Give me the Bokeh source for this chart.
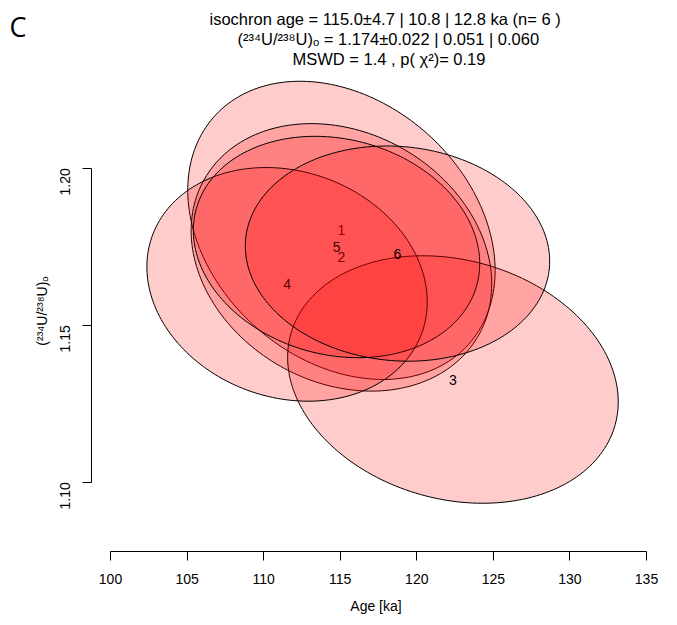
import math
import numpy as np
from bokeh.plotting import figure
from bokeh.models import ColumnDataSource, Title, FixedTicker, PrintfTickFormatter, Range1d
from bokeh.core.properties import value
from bokeh.embed import file_html
from bokeh.resources import INLINE

# ---- data ----
sample_ids = ["1", "2", "3", "4", "5", "6"]
age_ka = [115.08, 115.08, 122.36, 111.53, 114.76, 118.74]
u234_u238_0 = [1.1802, 1.1716, 1.1327, 1.1630, 1.1749, 1.1728]
s_age = [4.10, 4.01, 4.41, 3.74, 3.82, 4.06]
s_ratio = [0.0194, 0.0174, 0.0161, 0.0152, 0.0144, 0.0140]
rho = [-0.27, -0.20, -0.18, -0.15, -0.15, -0.07]
conf_level = 0.95
x_ticks = [100, 105, 110, 115, 120, 125, 130, 135]
y_ticks = [1.10, 1.15, 1.20]

title_lines = [
    "isochron age =  115.0\u00b14.7 | 10.8 | 12.8 ka (n= 6 )",
    "(\u00b2\u00b3\u2074U/\u00b2\u00b3\u2078U)\u2092 =  1.174\u00b10.022 | 0.051 | 0.060",
    "MSWD = 1.4 , p( \u03c7\u00b2)= 0.19",
]
panel_tag = "C"

FONT = "Liberation Sans"

p = figure(width=661, height=617,
           x_range=Range1d(98.759, 135.914), y_range=Range1d(1.07793, 1.23111),
           output_backend="svg", toolbar_location=None,
           min_border_left=91, min_border_right=1, min_border_top=70, min_border_bottom=66)
p.outline_line_color = None
p.xgrid.visible = False
p.ygrid.visible = False
p.background_fill_color = "white"
p.border_fill_color = "white"

# ellipses (confidence ellipses from sigma / rho), each followed by its label
k = math.sqrt(-2.0 * math.log(1.0 - conf_level))
t = np.linspace(0, 2 * np.pi, 200)
for i in range(len(sample_ids)):
    cx, cy = age_ka[i], u234_u238_0[i]
    sx, sy, r = s_age[i], s_ratio[i], rho[i]
    ex = cx + k * sx * np.cos(t)
    ey = cy + k * sy * (r * np.cos(t) + math.sqrt(1 - r * r) * np.sin(t))
    src = ColumnDataSource(dict(xs=[list(ex)], ys=[list(ey)]))
    p.patches("xs", "ys", source=src, fill_color="red", fill_alpha=0.2,
              line_color="black", line_width=1)
    lsrc = ColumnDataSource(dict(x=[cx], y=[cy], t=[sample_ids[i]]))
    p.text("x", "y", text="t", source=lsrc, text_align="center", text_baseline="middle",
           text_font=value(FONT), text_font_size="14px", text_color="black")

# axes
xa = p.xaxis[0]
xa.ticker = FixedTicker(ticks=x_ticks)
xa.bounds = (x_ticks[0], x_ticks[-1])
xa.axis_label = "Age [ka]"
ya = p.yaxis[0]
ya.ticker = FixedTicker(ticks=y_ticks)
ya.bounds = (y_ticks[0], y_ticks[-1])
ya.formatter = PrintfTickFormatter(format="%.2f")
ya.axis_label = "(\u00b2\u00b3\u2074U/\u00b2\u00b3\u2078U)\u2092"
ya.major_label_orientation = math.pi / 2
for ax in (xa, ya):
    ax.major_tick_in = 0
    ax.major_tick_out = 9
    ax.minor_tick_in = 0
    ax.minor_tick_out = 0
    ax.axis_line_color = "black"
    ax.major_tick_line_color = "black"
    ax.major_label_text_font = FONT
    ax.major_label_text_font_size = "14px"
    ax.major_label_text_color = "black"
    ax.axis_label_text_font = FONT
    ax.axis_label_text_font_size = "14px"
    ax.axis_label_text_font_style = "normal"
    ax.axis_label_text_color = "black"
xa.major_label_standoff = 13
xa.axis_label_standoff = 11
ya.major_label_standoff = 17
ya.axis_label_standoff = 3

# title lines, stacked above the frame (closest line added first)
title_offsets = [118, 146, 201]   # left edge of each line, relative to frame left
title_standoffs = [6, -6, 6]
for line, off, so in reversed(list(zip(title_lines, title_offsets, title_standoffs))):
    p.add_layout(Title(text=line, align="left", offset=off, standoff=so,
                       text_font=FONT, text_font_size="16.5px",
                       text_font_style="normal", text_color="black"), "above")

# panel tag in the top-left corner
p.add_layout(Title(text=panel_tag, align="left", offset=-82, standoff=-81,
                   text_font="Open Sans", text_font_size="27px",
                   text_font_style="normal", text_color="black"), "above")

open("out.html", "w").write(file_html(p, INLINE))
